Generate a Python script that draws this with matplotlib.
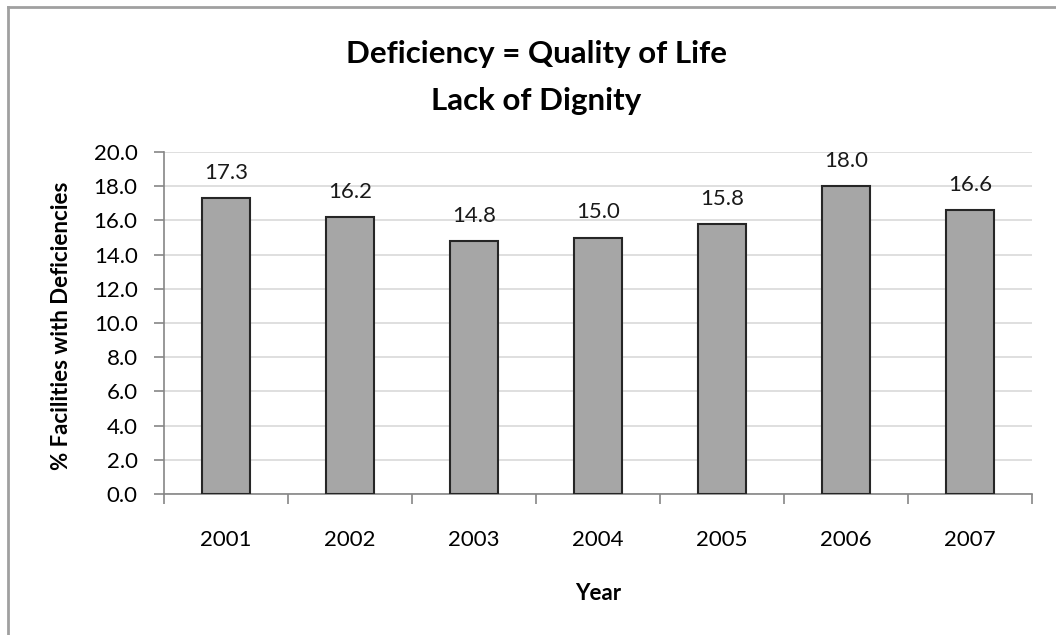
import numpy as np
import matplotlib.pyplot as plt
from matplotlib.lines import Line2D

# chart data
years = ["2001", "2002", "2003", "2004", "2005", "2006", "2007"]
pct_deficient = [17.3, 16.2, 14.8, 15.0, 15.8, 18.0, 16.6]
y_ticks = [0, 2, 4, 6, 8, 10, 12, 14, 16, 18, 20]

plt.rcParams['font.family'] = ['Lato', 'DejaVu Sans']

fig = plt.figure(figsize=(10.56, 6.35), dpi=100)
ax = fig.add_axes([164 / 1056, 1 - 494 / 635, 868 / 1056, 342 / 635])

x = np.arange(len(years))
ax.bar(x, pct_deficient, width=0.39, color='#a6a6a6', edgecolor='#262626',
       linewidth=1.5, zorder=3)

# value labels above the bars
for xi, v in zip(x, pct_deficient):
    ax.annotate(f"{v:.1f}", (xi, v), xytext=(0, 11), textcoords='offset points',
                ha='center', va='bottom', fontsize=16, color='#1a1a1a')

ax.set_xlim(-0.5, len(years) - 0.5)
ax.set_ylim(0, 20)
ax.set_yticks(y_ticks)
ax.set_yticklabels([f"{t:.1f}" for t in y_ticks], fontsize=16)
ax.yaxis.grid(True, color='#d9d9d9', linewidth=1.2, zorder=0)
ax.set_axisbelow(True)

# category ticks at boundaries, labels at centres
ax.set_xticks(np.arange(len(years) + 1) - 0.5)
ax.set_xticklabels([])
ax.set_xticks(x, minor=True)
ax.set_xticklabels(years, minor=True, fontsize=16)
ax.tick_params(axis='x', which='major', length=7, width=1.2, color='#868686', direction='out')
ax.tick_params(axis='x', which='minor', length=0, pad=26)
ax.tick_params(axis='y', length=7, width=1.2, color='#868686', pad=12)

for side in ['top', 'right']:
    ax.spines[side].set_visible(False)
for side in ['left', 'bottom']:
    ax.spines[side].set_color('#868686')
    ax.spines[side].set_linewidth(1.2)

ax.set_xlabel("Year", fontsize=16, fontweight='bold', labelpad=24)
fig.text(62 / 1056, 1 - 326 / 635, "% Facilities with Deficiencies", rotation=90,
         ha='center', va='center', fontsize=16, fontweight='bold')

fig.text(536 / 1056, 1 - 54 / 635, "Deficiency = Quality of Life", ha='center',
         va='center', fontsize=22.5, fontweight='bold')
fig.text(536 / 1056, 1 - 101 / 635, "Lack of Dignity", ha='center',
         va='center', fontsize=22.5, fontweight='bold')

# chart area border (left and top visible)
fig.add_artist(Line2D([8 / 1056, 8 / 1056], [0, 1 - 7 / 635], color='#a0a0a0', linewidth=2))
fig.add_artist(Line2D([8 / 1056, 1], [1 - 7 / 635, 1 - 7 / 635], color='#a0a0a0', linewidth=2))

fig.savefig("out.png", dpi=100)
